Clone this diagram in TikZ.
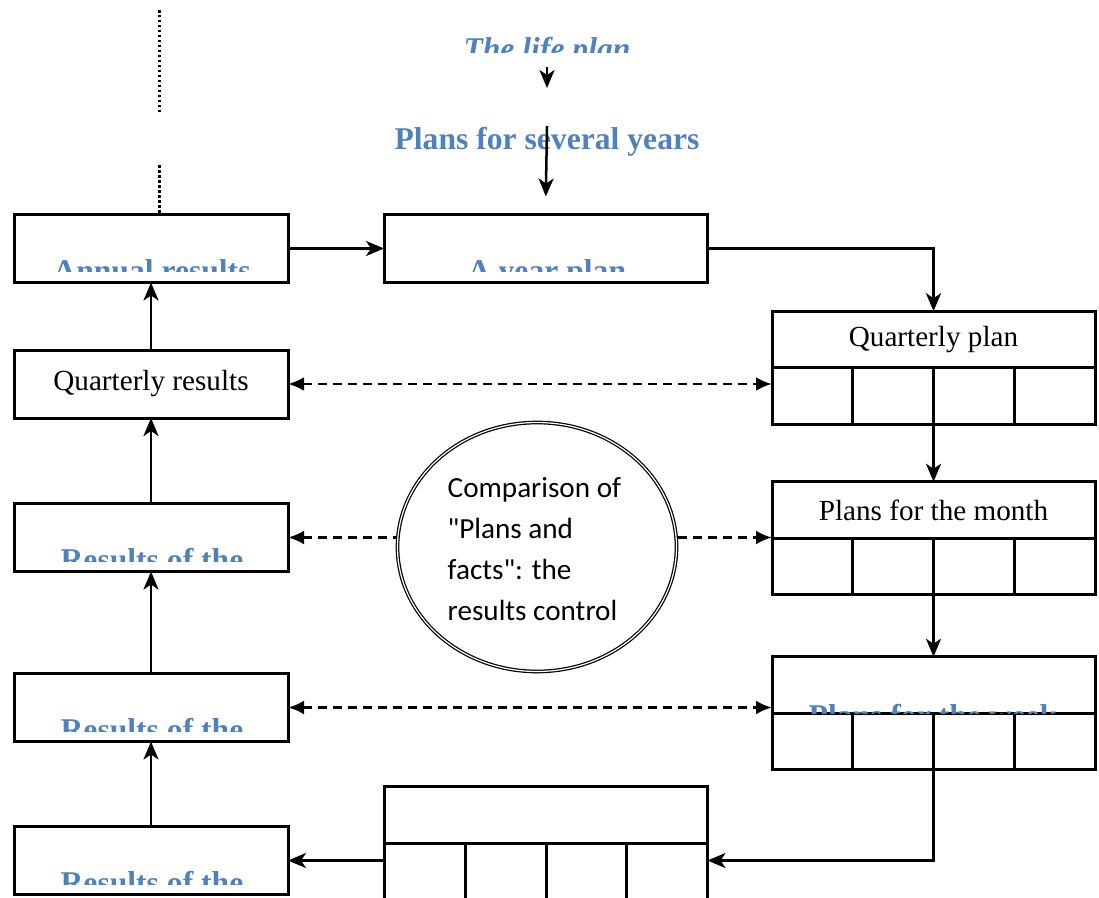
\documentclass[tikz,border=0pt]{standalone}
\usepackage{fontspec}
\setmainfont{Liberation Serif}
\newfontfamily\calibri{Carlito}
\usetikzlibrary{positioning,shapes.geometric,arrows.meta,calc}
\definecolor{titleblue}{HTML}{4F81BD}

\tikzset{%
  result/.style={
    rectangle,
    draw,
    line width=0.3mm,
    outer sep=0pt,
    inner sep=0pt,
    minimum width=27.4mm,
    minimum height=6.8mm,
    font=\fontsize{8.3}{10}\selectfont
  },
  plan head/.style={
    rectangle,
    draw,
    line width=0.3mm,
    outer sep=0pt,
    inner sep=0pt,
    minimum width=32.3mm,
    minimum height=5.65mm,
    font=\fontsize{8.3}{10}\selectfont
  },
  plan cells/.style={plan head, below=0pt of #1},
  title/.style={
    inner sep=0pt,
    text=titleblue,
    font=\bfseries\fontsize{9}{11}\selectfont
  },
  flow/.style={line width=0.25mm, -{Stealth[length=1.8mm,width=1.5mm,inset=0.5mm]}},
  compare/.style={
    line width=0.28mm,
    dash pattern=on 0.9mm off 0.6mm,
    {Latex[length=1.6mm,width=1.4mm]}-{Latex[length=1.6mm,width=1.4mm]}
  },
  dotline/.style={line width=0.3mm, dash pattern=on 0.25mm off 0.25mm},
}

% three inner walls of a row of four cells
\newcommand{\quarters}[1]{%
  \foreach \f in {0.25,0.5,0.75}
    \draw[line width=0.3mm] ($(#1.north west)!\f!(#1.north east)$) -- ($(#1.south west)!\f!(#1.south east)$);
}

\begin{document}
\begin{tikzpicture}[x=0.1mm,y=-0.1mm]
\clip (0,0) rectangle (1099,897);

% headings on top
\begin{scope}
\clip (400,0) rectangle (700,52);
\node[title, anchor=base, font=\bfseries\itshape\fontsize{9}{11}\selectfont] (lifeplan) at (547,60) {The life plan};
\end{scope}
\node[title, anchor=base] (years) at (547,149) {Plans for several years};
\draw[dotline] (159,10) -- (159,112);
\draw[dotline] (159,165) -- (159,213);

% results column
\node[result] (annual) at (151,248.5) {};
\node[result] (qresults) at (151,384) {Quarterly results};
\node[result] (mresults) at (151,537.5) {};
\node[result] (wresults) at (151,707.5) {};
\node[result] (dresults) at (151,860.5) {};

\begin{scope}
\clip (14,215) rectangle (288,271);
\node[title, anchor=base] (annualtxt) at (152,281) {Annual results};
\end{scope}
\begin{scope}
\clip (14,503) rectangle (288,561);
\node[title, anchor=base] (mresultstxt) at (152,570) {Results of the};
\end{scope}
\begin{scope}
\clip (14,673) rectangle (288,731);
\node[title, anchor=base] (wresultstxt) at (152,740) {Results of the};
\end{scope}
\begin{scope}
\clip (14,826) rectangle (288,884);
\node[title, anchor=base] (dresultstxt) at (152,893) {Results of the};
\end{scope}

% plans
\node[result, minimum width=32.3mm] (yearplan) at (545.5,248.5) {};
\begin{scope}
\clip (384,215) rectangle (707,271);
\node[title, anchor=base] (yearplantxt) at (547,281) {A year plan};
\end{scope}

\node[plan head] (qplan) at (933.5,339.5) {Quarterly plan};
\node[plan cells=qplan] (qcells) {};
\quarters{qcells}

\node[plan head] (mplan) at (933.5,510) {Plans for the month};
\node[plan cells=mplan] (mcells) {};
\quarters{mcells}

\node[plan head] (wplan) at (933.5,685) {};
\node[plan cells=wplan] (wcells) {};
\quarters{wcells}
\begin{scope}
\clip (wplan.north west) rectangle (wplan.south east);
\node[title, anchor=base] (wplantxt) at (933,726) {Plans for the week};
\end{scope}

\node[plan head] (dplan) at (546,815) {};
\node[plan cells=dplan] (dcells) {};
\quarters{dcells}

% connectors
\draw[flow, shorten >=3.8mm] (lifeplan.south) -- (years.north);
\draw[flow, shorten >=1.8mm] (years.north) -- (yearplan.north);
\draw[flow] (annual) -- (yearplan);
\draw[flow] (yearplan.east) -| (qplan.north);
\draw[flow] (qcells.south) -- (mplan.north);
\draw[flow] (mcells.south) -- (wplan.north);
\draw[flow] (wcells.south) |- (dcells.east |- dresults.east);
\draw[flow] (dcells.west |- dresults.east) -- (dresults.east);
\draw[flow] (dresults) -- (wresults);
\draw[flow] (wresults) -- (mresults);
\draw[flow] (mresults) -- (qresults);
\draw[flow] (qresults) -- (annual);

\draw[compare] (qresults.east) -- (qresults.east -| qcells.west);
\draw[compare] (mresults.east) -- (mresults.east -| mplan.west);
\draw[compare] (wresults.east) -- (wresults.east -| wplan.west);

\node[ellipse, draw, fill=white, double, double distance=0.35pt, line width=0.35pt,
  minimum width=27.9mm, minimum height=24.9mm, inner sep=0pt] (control) at (537,547) {};
\node[text width=19mm, align=flush left, inner sep=0pt, anchor=west,
  font=\calibri\fontsize{8.3}{11.6}\selectfont] (controltxt) at (447,549)
  {Comparison of "Plans and facts": the results control};
\end{tikzpicture}
\end{document}
